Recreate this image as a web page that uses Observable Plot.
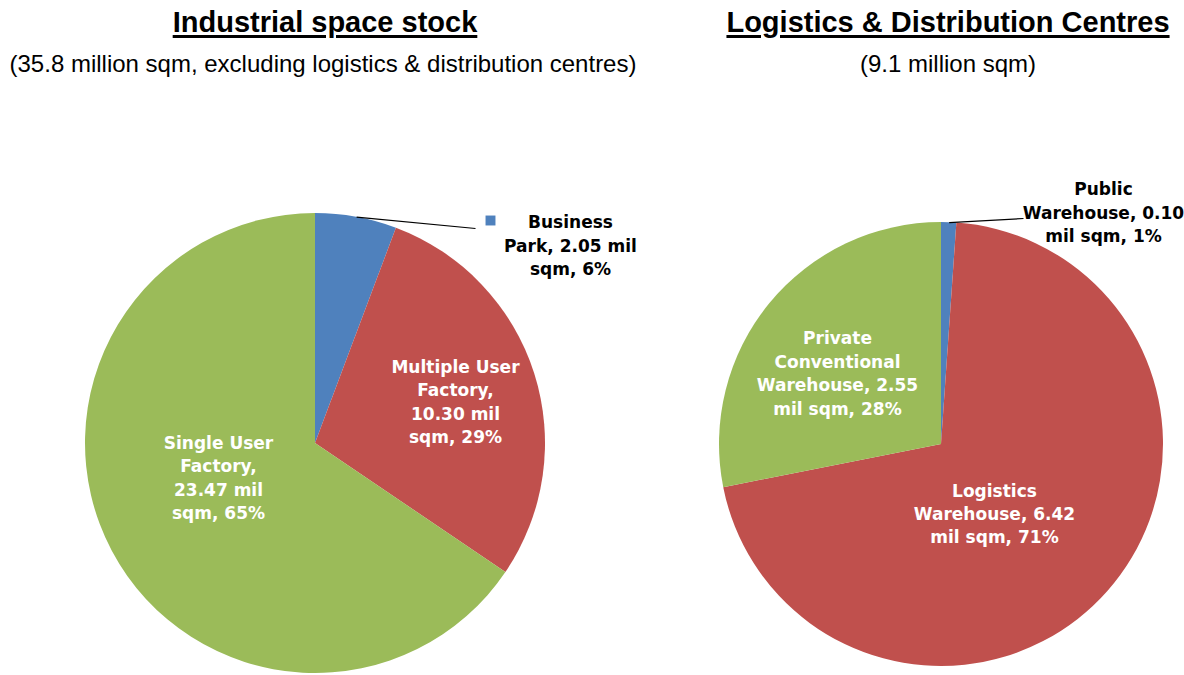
<!DOCTYPE html>
<html>
<head>
<meta charset="utf-8">
<script src="https://cdn.jsdelivr.net/npm/d3@7"></script>
<script src="https://cdn.jsdelivr.net/npm/@observablehq/plot@0.6"></script>
<style>
  body { margin: 0; background: #ffffff; }
  #wrap { position: relative; width: 1184px; }
  #header { position: relative; height: 100px; font-family: "Liberation Sans", Arial, sans-serif; color: #000; }
  .title { position: absolute; top: 8px; font-weight: bold; font-size: 29px; line-height: 29px; transform: translateX(-50%); white-space: nowrap; text-decoration: underline; text-decoration-thickness: 2.5px; text-underline-offset: 3px; }
  .sub { position: absolute; top: 52px; font-size: 24px; line-height: 24px; transform: translateX(-50%); white-space: nowrap; }
</style>
</head>
<body>
<div id="wrap">
  <div id="header">
    <div class="title" style="left:325px">Industrial space stock</div>
    <div class="sub" style="left:323px">(35.8 million sqm, excluding logistics &amp; distribution centres)</div>
    <div class="title" style="left:948px">Logistics &amp; Distribution Centres</div>
    <div class="sub" style="left:948px">(9.1 million sqm)</div>
  </div>
  <div id="chart"></div>
</div>
<script>
// ---- data ----
const industrialCategories = ["Business Park", "Multiple User Factory", "Single User Factory"];
const industrialValues = [2.05, 10.30, 23.47];
const industrialPercents = [6, 29, 65];
const industrialLabels = [
  "Business\nPark, 2.05 mil\nsqm, 6%",
  "Multiple User\nFactory,\n10.30 mil\nsqm, 29%",
  "Single User\nFactory,\n23.47 mil\nsqm, 65%"
];

const logisticsCategories = ["Public Warehouse", "Logistics Warehouse", "Private Conventional Warehouse"];
const logisticsValues = [0.10, 6.42, 2.55];
const logisticsPercents = [1, 71, 28];
const logisticsLabels = [
  "Public\nWarehouse, 0.10\nmil sqm, 1%",
  "Logistics\nWarehouse, 6.42\nmil sqm, 71%",
  "Private\nConventional\nWarehouse, 2.55\nmil sqm, 28%"
];

const colorDomain = [...industrialCategories, ...logisticsCategories];
const colorRange = ["#4F81BD", "#C0504D", "#9BBB59", "#4F81BD", "#C0504D", "#9BBB59"];

// ---- layout (positions in svg pixel space) ----
const W = 1184, H = 575;
const layout = {
  left: {
    cx: 315, cy: 343, r: 230,
    labelPos: [[570, 143.5], [455, 300], [218, 376]],
    labelFill: ["#000", "#fff", "#fff"],
    leaderEnd: [475, 128], leaderSlice: 0,
    swatch: [490, 120]
  },
  right: {
    cx: 941, cy: 344, r: 222,
    labelPos: [[1103, 110.5], [994, 412], [837, 271.5]],
    labelFill: ["#000", "#fff", "#fff"],
    leaderEnd: [1023, 118], leaderSlice: 0
  }
};

function sliceArcs(cats, vals) {
  return d3.pie().sort(null).value((d, i) => vals[i])(cats);
}

function pieMark(cats, vals, pie) {
  return (index, scales) => {
    const color = scales.color || d3.scaleOrdinal(colorDomain, colorRange);
    const r = scales.x(pie.r) - scales.x(0);
    const arc = d3.arc().innerRadius(0).outerRadius(r);
    const g = d3.create("svg:g")
      .attr("transform", `translate(${scales.x(pie.cx)},${scales.y(pie.cy)})`);
    g.selectAll("path")
      .data(sliceArcs(cats, vals))
      .join("path")
      .attr("d", arc)
      .attr("fill", d => color(d.data));
    return g.node();
  };
}

function labelRows(labels, pie) {
  return labels.map((t, i) => ({text: t, x: pie.labelPos[i][0], y: pie.labelPos[i][1], fill: pie.labelFill[i]}));
}

function leaderRow(cats, vals, pie) {
  const a = sliceArcs(cats, vals)[pie.leaderSlice];
  const mid = (a.startAngle + a.endAngle) / 2;
  return {
    x1: pie.cx + pie.r * Math.sin(mid),
    y1: pie.cy - pie.r * Math.cos(mid),
    x2: pie.leaderEnd[0],
    y2: pie.leaderEnd[1]
  };
}

const labels = [
  ...labelRows(industrialLabels, layout.left),
  ...labelRows(logisticsLabels, layout.right)
];
const leaders = [
  leaderRow(industrialCategories, industrialValues, layout.left),
  leaderRow(logisticsCategories, logisticsValues, layout.right)
];
const swatches = [{category: industrialCategories[0], x: layout.left.swatch[0], y: layout.left.swatch[1]}];

const chart = Plot.plot({
  width: W,
  height: H,
  margin: 0,
  x: {domain: [0, W], range: [0, W], axis: null},
  y: {domain: [0, H], range: [0, H], axis: null},
  color: {domain: colorDomain, range: colorRange},
  style: {fontFamily: "'DejaVu Sans', sans-serif", background: "#fff", overflow: "hidden"},
  marks: [
    pieMark(industrialCategories, industrialValues, layout.left),
    pieMark(logisticsCategories, logisticsValues, layout.right),
    Plot.link(leaders, {x1: "x1", y1: "y1", x2: "x2", y2: "y2", stroke: "#000", strokeWidth: 1.2}),
    Plot.dot(swatches, {x: "x", y: "y", fill: "category", symbol: "square", r: 5.6, stroke: null}),
    Plot.text(labels, {
      x: "x", y: "y", text: "text", fill: d => d.fill,
      fontSize: 17, fontWeight: "bold", lineHeight: 1.38, textAnchor: "middle"
    })
  ]
});
document.getElementById("chart").appendChild(chart);
</script>
</body>
</html>
